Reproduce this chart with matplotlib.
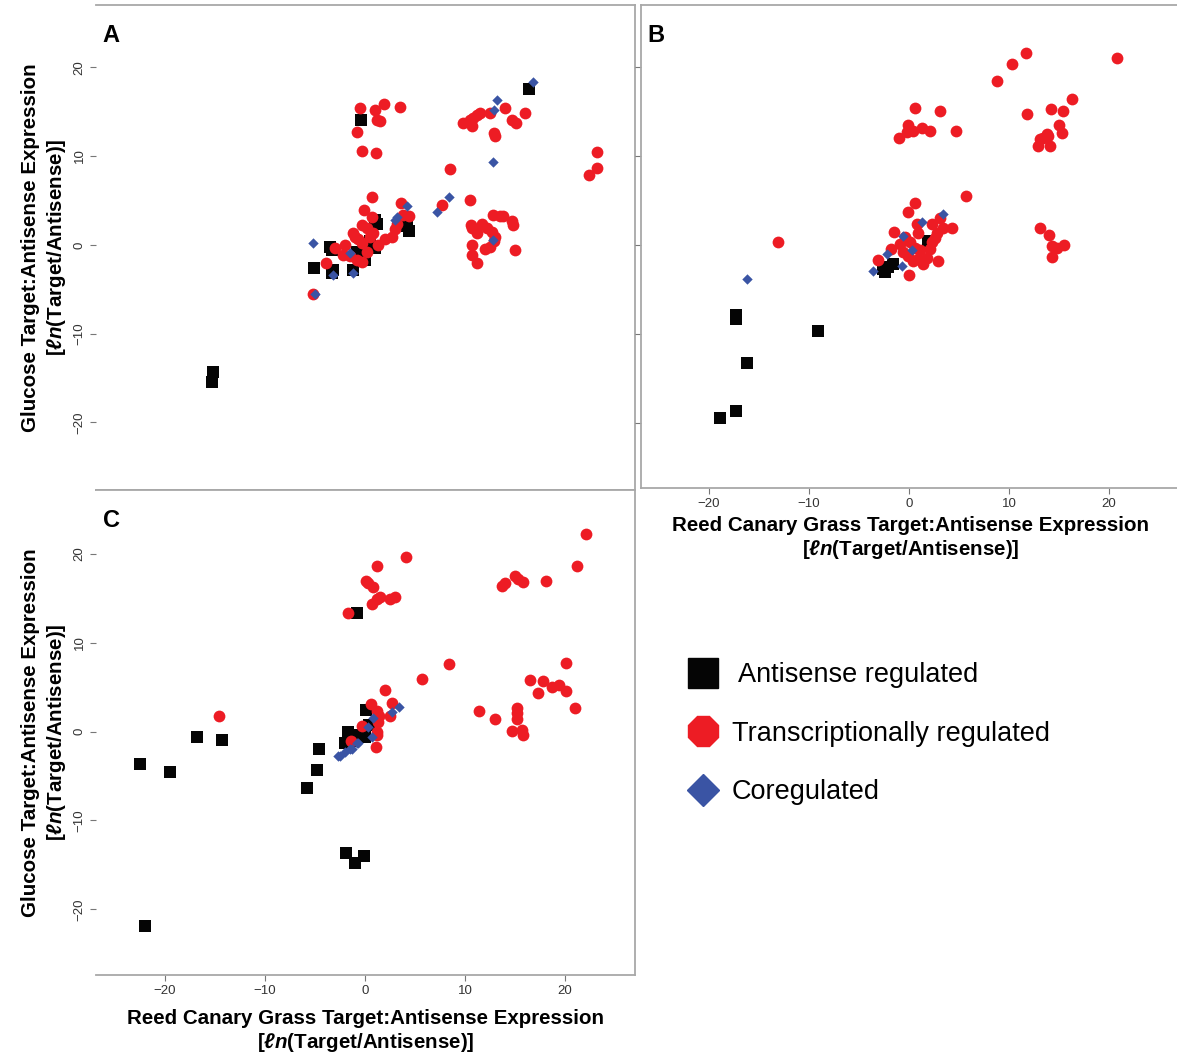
import matplotlib
matplotlib.use('Agg')
import matplotlib.pyplot as plt
from matplotlib.lines import Line2D

plt.rcParams['font.family'] = ['Liberation Sans', 'DejaVu Sans']
plt.rcParams['mathtext.fontset'] = 'custom'
plt.rcParams['mathtext.it'] = 'Liberation Sans:italic:bold'
plt.rcParams['mathtext.rm'] = 'Liberation Sans:bold'

RED = '#ED1C24'
BLUE = '#3A54A4'
BLACK = '#050505'

# ---- panel A: glucose vs (hidden) x ----
a_anti_x = [-0.4, 16.4, 1.0, 1.2, 4.2, 4.4, 1.0, -3.5, -3.3, -5.1, -3.2, -3.3, -1.2, 0.0, -0.8, 0.5, -15.2, -15.3]
a_anti_y = [14.0, 17.5, 2.8, 2.4, 2.1, 1.5, -0.4, -0.2, -0.6, -2.6, -2.8, -3.2, -2.8, -1.7, -0.8, 0.4, -14.3, -15.4]
a_trans_x = [-0.5, 1.0, 1.9, 3.5, 1.2, 1.5, -0.8, -0.3, 1.1,
             9.8, 10.5, 10.8, 11.2, 11.5, 10.7, 12.5, 14.0, 12.9, 13.0, 14.7, 15.1, 16.0,
             23.2, 23.2, 22.4, 8.5, 7.7,
             10.5, 12.8, 13.5, 13.8, 14.7, 14.8, 10.6, 10.7, 11.7, 12.2, 12.7, 13.0, 12.9, 11.2,
             12.5, 12.0, 10.7, 10.7, 11.2, 15.0,
             0.7, -0.1, 0.7, 3.6, 3.8, 4.4, 3.2, 3.0, 2.0, 2.7, -0.3, 0.2, 0.8, 0.5,
             -1.0, -0.7, -0.3, -1.2, -2.0, -3.0, -2.2, -1.5, -0.8, -0.3, -3.9, -5.2, 1.3, 0.2]
a_trans_y = [15.4, 15.2, 15.9, 15.5, 14.1, 13.9, 12.7, 10.6, 10.3,
             13.7, 14.0, 14.3, 14.6, 14.8, 13.4, 14.8, 15.4, 12.6, 12.2, 14.0, 13.7, 14.8,
             10.4, 8.7, 7.9, 8.5, 4.5,
             5.1, 3.4, 3.2, 3.3, 2.7, 2.2, 2.2, 1.9, 2.3, 1.9, 1.4, 0.9, 0.4, 1.3,
             -0.2, -0.5, 0.0, -1.1, -2.1, -0.6,
             5.4, 3.9, 3.1, 4.7, 3.4, 3.2, 2.3, 1.8, 0.6, 0.9, 2.2, 1.9, 1.3, 0.9,
             0.9, 0.6, 0.2, 1.3, 0.0, -0.4, -1.1, -1.3, -1.7, -1.9, -2.0, -5.5, 0.0, -0.8]
a_co_x = [13.2, 12.9, 12.8, 16.8, 8.4, 7.2, 12.8, -5.2, 4.2, 3.0, 3.2, -1.5, -3.2, -1.2, -5.0]
a_co_y = [16.3, 15.2, 9.3, 18.3, 5.4, 3.7, 0.5, 0.2, 4.4, 2.8, 3.1, -0.9, -3.4, -3.2, -5.5]

# ---- panel B: reed canary grass vs glucose ----
b_anti_x = [1.9, -2.6, -2.1, -1.6, -2.4, -17.3, -17.3, -9.1, -16.2, -17.3, -18.9]
b_anti_y = [0.5, -2.7, -2.5, -2.1, -3.0, -8.3, -7.9, -9.7, -13.3, -18.6, -19.4]
b_trans_x = [11.7, 10.3, 8.8, 20.8, 16.3, 14.2, 15.4, 11.8, 15.0, 15.3, 13.8, 13.4, 13.1, 12.9, 14.1, 13.9,
             0.6, 3.1, -0.1, -0.2, 0.4, 1.3, 2.1, -1.0, 4.7, 5.7, 0.6, -0.1,
             13.1, 14.0, 14.3, 14.8, 15.5, 14.3, -13.1,
             3.1, 2.3, 3.4, 4.3, -1.5, 0.8, 0.9, 2.8, 2.6, 2.3, -0.4, 0.1, 0.6, 1.1,
             -0.9, -0.6, -0.1, 0.4, 0.9, 1.8, 2.9, 2.1, -1.8, -3.1, 0.0, 1.4]
b_trans_y = [21.6, 20.4, 18.4, 21.0, 16.4, 15.3, 15.1, 14.7, 13.5, 12.6, 12.5, 12.1, 11.9, 11.2, 11.2, 12.3,
             15.4, 15.1, 13.5, 12.7, 12.8, 13.2, 12.8, 12.1, 12.8, 5.5, 4.7, 3.7,
             1.9, 1.1, -0.1, -0.3, 0.0, -1.3, 0.4,
             3.0, 2.4, 1.9, 1.9, 1.5, 2.4, 1.4, 1.4, 0.8, 0.3, 0.9, 0.3, -0.3, -0.5,
             0.1, -0.8, -1.2, -1.8, -1.6, -1.4, -1.8, -0.4, -0.4, -1.7, -3.4, -2.1]
b_co_x = [3.4, 1.3, -0.6, 0.3, -2.2, -3.6, -0.7, -16.2]
b_co_y = [3.5, 2.6, 1.0, -0.5, -1.0, -2.9, -2.3, -3.8]

# ---- panel C: reed canary grass vs glucose ----
c_anti_x = [-0.8, 0.1, -1.7, -0.9, -0.5, 0.4, -2.0, -1.5, 0.0, -4.6, -4.8, -5.8,
            -22.5, -19.5, -16.8, -14.3, -22.0, -1.9, -1.0, -0.1]
c_anti_y = [13.3, 2.4, 0.0, -0.4, -0.6, 0.8, -1.3, -1.0, -0.6, -1.9, -4.3, -6.3,
            -3.6, -4.5, -0.6, -0.9, -21.9, -13.7, -14.8, -14.0]
c_trans_x = [22.1, 21.2, 18.1, 15.0, 15.3, 15.8, 13.7, 14.0, 4.1, 1.2, 0.1, 0.3, 0.8, 1.2, 0.7, 1.5,
             2.5, 3.0, -1.7, 8.4, 5.7, 2.0, 0.6, 1.2, 1.4, 2.7, 2.5, 1.3, -0.3, 1.2, 1.2, -1.4, 1.1,
             20.1, 16.5, 17.8, 17.3, 18.7, 19.4, 20.1, 21.0, 11.4, 13.0, 15.2, 15.2, 15.2,
             14.7, 15.7, 15.8, -14.6]
c_trans_y = [22.2, 18.6, 17.0, 17.5, 17.2, 16.8, 16.4, 16.7, 19.7, 18.7, 16.9, 16.7, 16.3, 14.9, 14.4, 15.1,
             14.9, 15.2, 13.3, 7.6, 5.9, 4.7, 3.1, 2.3, 1.8, 3.2, 1.8, 1.1, 0.6, 0.0, -0.4, -1.0, -1.7,
             7.7, 5.8, 5.7, 4.3, 5.0, 5.3, 4.6, 2.7, 2.3, 1.4, 2.7, 2.1, 1.4,
             0.1, 0.2, -0.4, 1.8]
c_co_x = [3.4, 2.7, 0.8, 0.3, 0.7, -0.7, -0.8, -1.3, -1.5, -2.0, -2.5, -2.7]
c_co_y = [2.8, 2.2, 1.5, 0.5, -0.6, -1.3, -1.3, -1.9, -1.9, -2.3, -2.7, -2.7]

xlab = 'Reed Canary Grass Target:Antisense Expression\n[$\\mathit{ℓn}$(Target/Antisense)]'
ylab = 'Glucose Target:Antisense Expression\n[$\\mathit{ℓn}$(Target/Antisense)]'


def draw(ax, anti, trans, co, letter):
    ax.scatter(anti[0], anti[1], marker='s', s=72, color=BLACK, linewidths=0, zorder=3)
    ax.scatter(trans[0], trans[1], marker='o', s=72, color=RED, linewidths=0, zorder=4)
    ax.scatter(co[0], co[1], marker='D', s=28, color=BLUE, linewidths=0, zorder=5)
    ax.set_xticks([-20, -10, 0, 10, 20])
    ax.set_yticks([-20, -10, 0, 10, 20])
    ax.tick_params(length=4, width=0.8, color='#777777', labelsize=9.5, labelcolor='#333333')
    for side in ['top', 'right', 'bottom', 'left']:
        ax.spines[side].set_color('#a8a8a8')
        ax.spines[side].set_linewidth(1.3)
    ax.text(0.012, 0.96, letter, transform=ax.transAxes, fontsize=17, fontweight='bold',
            va='top', ha='left')


fig = plt.figure(figsize=(11.77, 10.59), dpi=100)
axA = fig.add_axes([0.0816, 0.5373, 0.4579, 0.4580])
axB = fig.add_axes([0.5446, 0.5392, 0.4588, 0.4561])
axC = fig.add_axes([0.0816, 0.0793, 0.4579, 0.4580])

draw(axA, (a_anti_x, a_anti_y), (a_trans_x, a_trans_y), (a_co_x, a_co_y), 'A')
draw(axB, (b_anti_x, b_anti_y), (b_trans_x, b_trans_y), (b_co_x, b_co_y), 'B')
draw(axC, (c_anti_x, c_anti_y), (c_trans_x, c_trans_y), (c_co_x, c_co_y), 'C')

axA.set_xlim(-26.9, 27.0)
axA.set_ylim(-27.6, 27.0)
axC.set_xlim(-26.9, 27.0)
axC.set_ylim(-27.4, 27.2)
axB.set_xlim(-26.8, 27.2)
axB.set_ylim(-27.3, 27.0)

axA.spines['left'].set_visible(False)
axC.spines['left'].set_visible(False)
axB.spines['right'].set_visible(False)
axA.tick_params(axis='x', labelbottom=False)
axB.tick_params(axis='y', labelleft=False)
for ax in (axA, axC):
    for lab in ax.get_yticklabels():
        lab.set_rotation(90)
        lab.set_va('center')

axA.set_ylabel(ylab, fontsize=14.8, fontweight='bold', labelpad=4, linespacing=1.3)
axC.set_ylabel(ylab, fontsize=14.8, fontweight='bold', labelpad=4, linespacing=1.3)
axB.set_xlabel(xlab, fontsize=14.8, fontweight='bold', labelpad=4, linespacing=1.2)
axC.set_xlabel(xlab, fontsize=14.8, fontweight='bold', labelpad=8, linespacing=1.2)

handles = [
    Line2D([], [], marker='s', ls='none', color=BLACK, markersize=22),
    Line2D([], [], marker='8', ls='none', color=RED, markersize=24),
    Line2D([], [], marker='D', ls='none', color=BLUE, markersize=16),
]
labels = [' Antisense regulated', 'Transcriptionally regulated', 'Coregulated']
fig.legend(handles, labels, loc='upper left', bbox_to_anchor=(0.57, 0.385), frameon=False,
           fontsize=19.5, labelspacing=1.2, handlelength=1.6, handletextpad=0.25,
           borderaxespad=0)

fig.savefig('out.png', dpi=100)
